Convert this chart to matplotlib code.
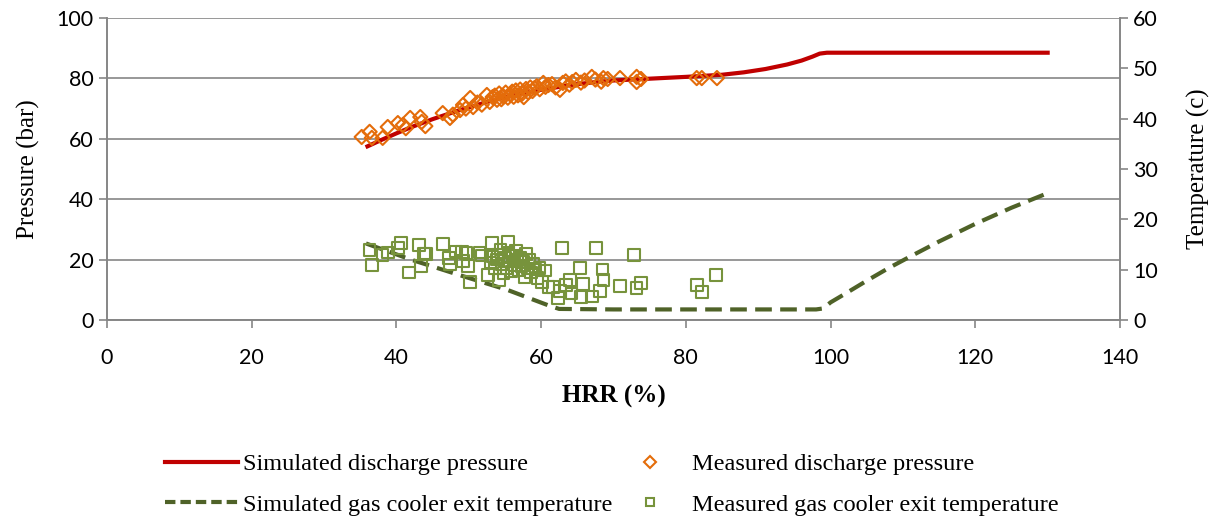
import numpy as np
import matplotlib.pyplot as plt
from matplotlib.lines import Line2D

# simulated discharge pressure (HRR %, bar)
sim_p_x = [36, 38, 40, 42, 45, 48, 50, 53, 55, 58, 60, 63, 65, 68, 70, 75, 80, 85, 88, 91, 94, 96, 97.5, 98.5, 99.5, 100, 130]
sim_p_y = [57.5, 59.7, 61.8, 63.8, 66.5, 68.9, 70.4, 72.5, 73.7, 75.3, 76.2, 77.4, 78.1, 78.9, 79.3, 79.9, 80.5, 81.2, 82.0, 83.1, 84.6, 85.9, 87.2, 88.2, 88.5, 88.5, 88.5]

# simulated gas cooler exit temperature (HRR %, C)
sim_t_x = [35.8, 42, 49, 55.3, 61.2, 62.5, 70, 80, 90, 98, 99, 100, 102, 105, 108, 111, 115, 120, 125, 130]
sim_t_y = [15.2, 12.0, 8.8, 6.0, 2.8, 2.2, 2.1, 2.1, 2.1, 2.1, 2.3, 3.5, 5.2, 7.8, 10.3, 12.6, 15.6, 19.1, 22.3, 25.2]

# measured discharge pressure
meas_p_x = [35.2, 36.3, 36.6, 38.1, 38.8, 40.2, 40.9, 41.3, 41.9, 43.3, 43.5, 44.0, 46.4, 47.4, 47.8,
            48.8, 49.2, 49.6, 50.2, 50.6, 51.2, 51.8, 52.5, 52.9, 53.3, 53.6, 53.9, 54.2, 54.5, 54.8,
            55.1, 55.4, 55.7, 56.0, 56.2, 56.5, 56.8, 57.1, 57.4, 57.6, 57.9, 58.2, 58.5, 58.8, 59.1,
            59.4, 59.8, 60.3, 60.6, 61.0, 61.5, 62.0, 62.6, 63.0, 63.4, 63.9, 64.3, 64.8, 65.5, 66.0,
            67.0, 67.5, 68.3, 68.6, 69.2, 70.9, 73.2, 73.2, 73.8, 81.5, 82.2, 84.3]
meas_p_y = [60.6, 62.3, 60.3, 60.3, 63.9, 65.2, 64.6, 63.5, 66.9, 67.2, 65.6, 64.2, 68.5, 66.9, 68.0,
            69.5, 71.2, 70.0, 73.5, 70.5, 72.0, 71.3, 74.5, 72.2, 73.8, 74.3, 72.9, 75.0, 73.1, 74.0,
            75.3, 73.6, 74.7, 75.6, 73.9, 76.0, 74.4, 76.3, 75.0, 73.8, 76.5, 75.4, 77.0, 75.8, 76.8,
            77.4, 76.4, 78.5, 77.2, 77.8, 78.1, 77.0, 76.2, 78.5, 79.0, 77.9, 78.8, 79.5, 78.6, 79.3,
            80.5, 79.6, 78.9, 80.1, 79.8, 80.1, 80.5, 78.8, 79.8, 80.1, 80.1, 80.1]

# measured gas cooler exit temperature
meas_t_x = [36.3, 36.6, 38.1, 38.8, 40.2, 40.6, 41.7, 43.1, 43.4, 43.8, 44.1, 46.4, 47.3, 47.4, 48.2,
            49.1, 49.2, 49.6, 49.9, 50.2, 51.5, 51.8, 52.7, 53.0, 53.2, 53.3, 53.6, 53.9, 54.0, 54.2,
            54.4, 54.6, 54.8, 55.0, 55.2, 55.4, 55.5, 55.7, 55.9, 56.1, 56.3, 56.5, 56.7, 56.9, 57.1,
            57.3, 57.5, 57.7, 57.9, 58.1, 58.3, 58.6, 58.9, 59.2, 59.5, 59.8, 60.1, 60.5, 61.0, 61.6,
            62.3, 62.6, 62.9, 63.4, 64.0, 64.2, 65.4, 65.5, 65.8, 67.0, 67.6, 68.1, 68.5, 68.6, 70.9,
            72.8, 73.2, 73.8, 81.5, 82.2, 84.2]
meas_t_y = [13.9, 10.9, 12.9, 13.4, 14.3, 15.3, 9.4, 14.9, 10.7, 13.2, 13.1, 15.1, 12.3, 11.0, 13.6,
            13.5, 11.7, 13.3, 10.7, 7.6, 13.4, 12.8, 9.0, 11.4, 15.3, 12.6, 10.2, 12.0, 13.0, 8.0,
            14.0, 11.1, 9.3, 12.4, 10.3, 15.5, 13.4, 11.6, 9.6, 12.8, 10.9, 13.8, 11.9, 9.9, 12.4,
            10.6, 11.5, 8.5, 13.1, 10.2, 12.0, 9.4, 11.2, 10.0, 8.4, 10.3, 7.5, 9.8, 6.5, 6.5,
            4.4, 5.8, 14.3, 7.0, 7.9, 5.3, 10.3, 4.6, 7.2, 4.7, 14.3, 5.8, 10.0, 8.0, 6.8,
            12.9, 6.4, 7.4, 7.0, 5.6, 8.9]

red = "#C00000"
orange = "#E46C0A"
dgreen = "#4F6228"
lgreen = "#77933C"
gray = "#868686"

tick_font = "Lato"
serif = "Liberation Serif"

fig = plt.figure(figsize=(12.17, 5.21), dpi=100)
ax = fig.add_axes([0.0879, 0.3858, 0.8324, 0.5797])
ax2 = ax.twinx()

ax.plot(sim_p_x, sim_p_y, color=red, lw=3, zorder=3)
ax.scatter(meas_p_x, meas_p_y, marker="D", s=52, facecolors="none",
           edgecolors=orange, linewidths=1.5, zorder=4)

ax2.plot(sim_t_x, sim_t_y, color=dgreen, lw=3, dashes=(4, 2), zorder=3)
ax2.scatter(meas_t_x, meas_t_y, marker="s", s=70, facecolors="none",
            edgecolors=lgreen, linewidths=1.5, zorder=4)

ax.set_xlim(0, 140)
ax.set_ylim(0, 100)
ax2.set_ylim(0, 60)
ax.set_xticks(range(0, 141, 20))
ax.set_yticks(range(0, 101, 20))
ax2.set_yticks(range(0, 61, 10))

ax.grid(axis="y", color=gray, lw=1.2)
ax.set_axisbelow(True)
for a in (ax, ax2):
    a.spines["top"].set_visible(False)
    for s in ("left", "right", "bottom"):
        a.spines[s].set_color(gray)
        a.spines[s].set_linewidth(1.2)
    a.tick_params(colors=gray, length=6, width=1.2, labelcolor="black", labelsize=15.5)
    for lab in a.get_xticklabels() + a.get_yticklabels():
        lab.set_fontfamily(tick_font)
ax.tick_params(axis="x", pad=14)

ax.set_xlabel("HRR (%)", fontfamily=serif, fontsize=18, fontweight="bold", labelpad=12)
ax.set_ylabel("Pressure (bar)", fontfamily=serif, fontsize=18, labelpad=12)
ax2.set_ylabel("Temperature (c)", fontfamily=serif, fontsize=18, labelpad=21)

handles = [
    Line2D([], [], color=red, lw=3),
    Line2D([], [], color=dgreen, lw=3, dashes=(2.5, 1.2)),
    Line2D([], [], marker="D", ls="none", markersize=6, markerfacecolor="none",
           markeredgecolor=orange, markeredgewidth=1.5),
    Line2D([], [], marker="s", ls="none", markersize=6, markerfacecolor="none",
           markeredgecolor=lgreen, markeredgewidth=1.5),
]
labels = ["Simulated discharge pressure", "Simulated gas cooler exit temperature",
          "Measured discharge pressure", "Measured gas cooler exit temperature"]
fig.legend(handles, labels, ncol=2, loc="upper left", bbox_to_anchor=(0.118, 0.172),
           frameon=False, prop={"family": serif, "size": 17.5}, handlelength=3.0,
           handletextpad=0.2, columnspacing=0.05, labelspacing=0.75)

fig.savefig("out.png", dpi=100)
